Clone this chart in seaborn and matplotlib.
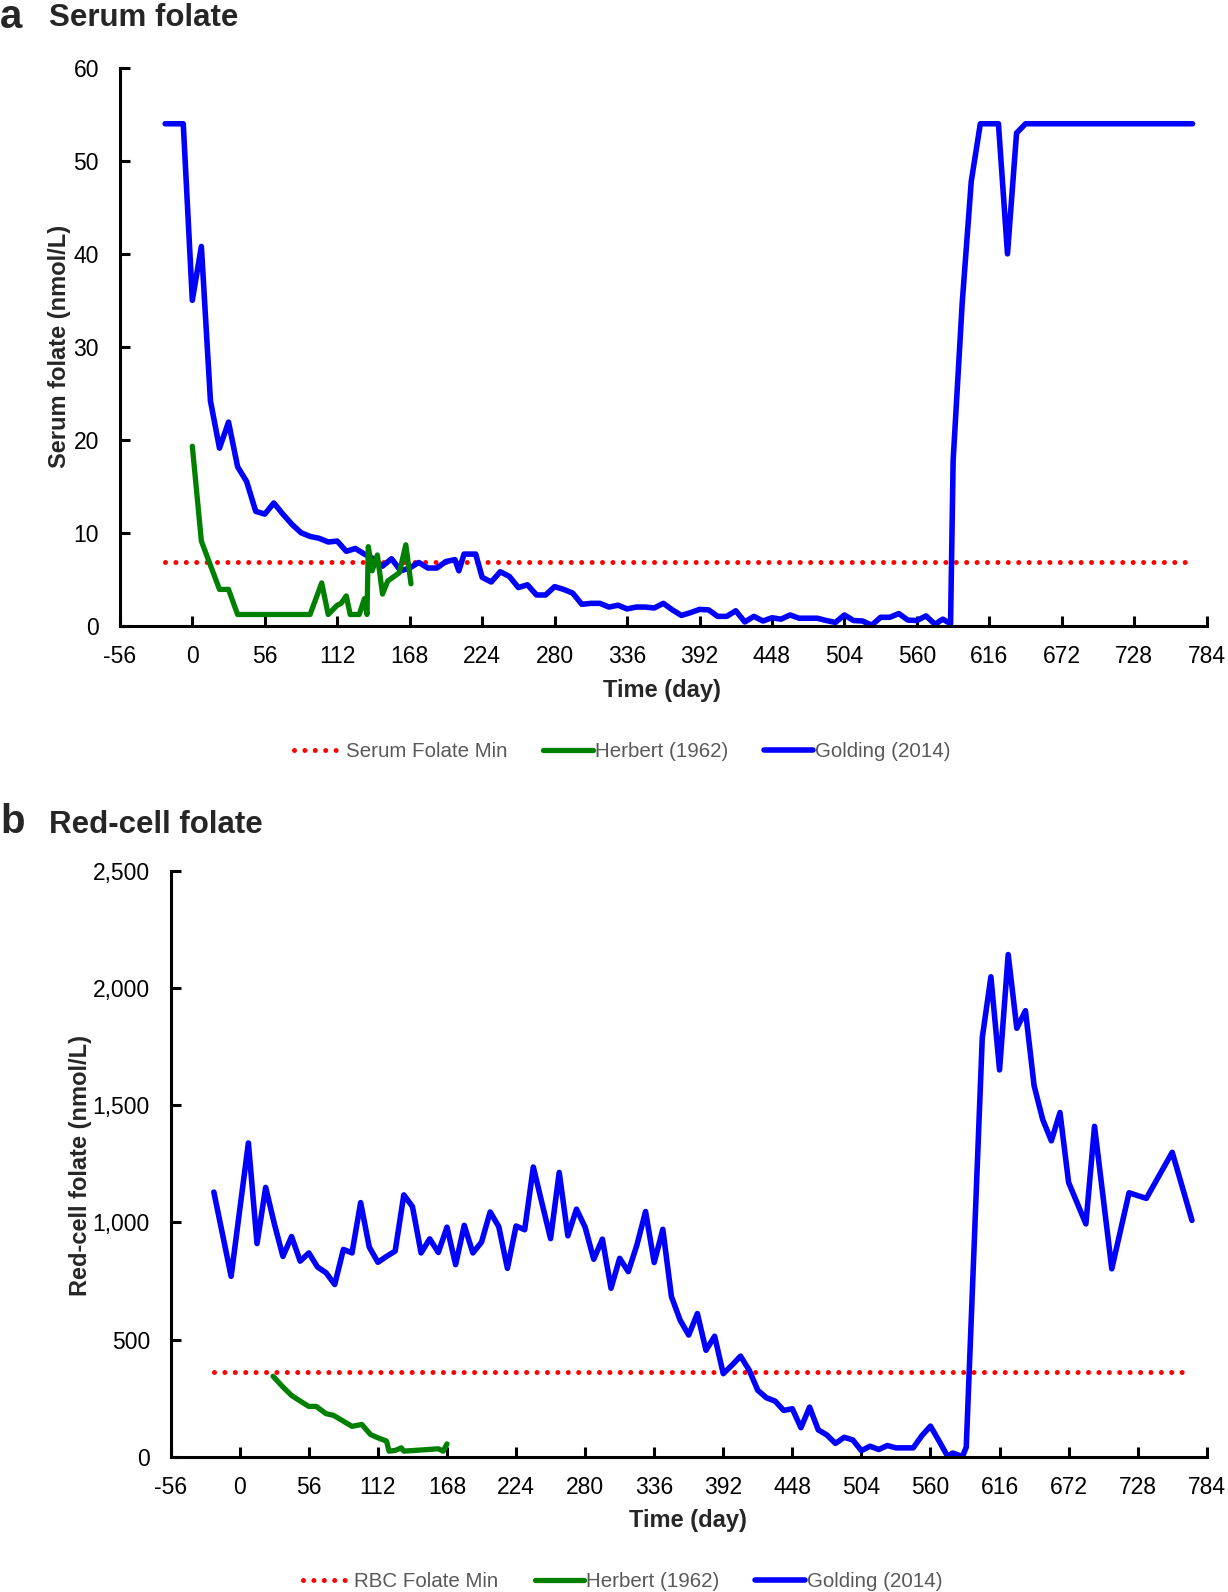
import numpy as np
import matplotlib
matplotlib.use('Agg')
import matplotlib.pyplot as plt
from matplotlib.ticker import FuncFormatter
import seaborn as sns

# ── Panel a: serum folate (nmol/L) ──────────────────────────────────────────
serum_golding_day = [-21, -14, -7, 0, 7, 14, 21, 28, 35, 42, 49, 56, 63, 70, 77, 84, 91, 98,
                     105, 112, 119, 126, 133, 140, 147, 154, 161, 168, 175, 182, 189, 196, 203,
                     206, 210, 219, 224, 231, 238, 245, 252, 259, 266, 273, 280, 287, 294, 301,
                     308, 315, 322, 329, 336, 343, 350, 357, 364, 371, 378, 385, 392, 399, 406,
                     413, 420, 427, 434, 441, 448, 455, 462, 469, 476, 483, 490, 497, 504, 511,
                     518, 525, 532, 539, 546, 553, 560, 567, 574, 580, 586, 588, 595, 602, 609,
                     616, 623, 630, 637, 644, 672, 700, 728, 756, 773]
serum_golding_val = [54, 54, 54, 35, 40.8, 24.2, 19.1, 21.9, 17.1, 15.5, 12.3, 12.0, 13.2, 12.0,
                     10.9, 10.0, 9.6, 9.4, 9.0, 9.1, 8.0, 8.3, 7.7, 7.2, 6.4, 7.2, 5.9, 6.2, 6.8,
                     6.2, 6.2, 6.9, 7.1, 5.9, 7.7, 7.7, 5.2, 4.7, 5.8, 5.3, 4.1, 4.4, 3.3, 3.3,
                     4.2, 3.9, 3.5, 2.3, 2.4, 2.4, 2.0, 2.2, 1.8, 2.0, 2.0, 1.9, 2.4, 1.7, 1.1,
                     1.4, 1.75, 1.7, 1.0, 1.0, 1.6, 0.4, 1.0, 0.5, 0.85, 0.7, 1.15, 0.8, 0.8, 0.8,
                     0.55, 0.35, 1.15, 0.55, 0.5, 0.05, 0.9, 0.9, 1.3, 0.6, 0.55, 1.05, 0.15, 0.7,
                     0.2, 17.8, 34.7, 47.8, 54, 54, 54, 40, 53, 54, 54, 54, 54, 54, 54]
serum_herbert_day = [0, 7, 21, 28, 35, 91, 100, 105, 112, 115, 119, 122, 129, 133, 135, 136,
                     139, 143, 147, 151, 160, 165, 169]
serum_herbert_val = [19.3, 9.1, 3.9, 3.9, 1.2, 1.2, 4.6, 1.2, 2.2, 2.4, 3.2, 1.2, 1.2, 2.9, 1.2,
                     8.5, 5.9, 7.6, 3.4, 4.8, 5.7, 8.7, 4.5]
serum_min = 6.8

# ── Panel b: red-cell folate (nmol/L) ───────────────────────────────────────
rbc_golding_day = [-21, -7, 7, 14, 21, 28, 35, 42, 49, 56, 63, 70, 77, 84, 91, 98, 105, 112, 119,
                   126, 133, 140, 147, 154, 161, 168, 175, 182, 189, 196, 203, 210, 217, 224,
                   231, 238, 245, 252, 259, 266, 273, 280, 287, 294, 301, 308, 315, 322, 329,
                   336, 343, 350, 357, 364, 371, 378, 385, 392, 399, 406, 413, 420, 427, 434,
                   441, 448, 455, 462, 469, 476, 483, 490, 497, 504, 511, 518, 525, 532, 539,
                   546, 553, 560, 567, 574, 578, 586, 589, 602, 609, 616, 623, 630, 637, 644,
                   651, 658, 665, 672, 686, 693, 707, 721, 735, 756, 772]
rbc_golding_val = [1130, 770, 1340, 910, 1150, 995, 855, 940, 835, 870, 810, 785, 735, 885, 870,
                   1085, 895, 830, 855, 878, 1118, 1068, 870, 930, 872, 980, 820, 988, 870, 916,
                   1045, 982, 804, 985, 969, 1237, 1083, 931, 1214, 943, 1057, 980, 843, 929,
                   719, 847, 790, 904, 1047, 829, 971, 683, 583, 519, 611, 454, 514, 354, 390,
                   429, 369, 283, 251, 237, 197, 204, 123, 211, 114, 92, 56, 82, 71, 25, 44, 30,
                   47, 37, 37, 37, 89, 130, 66, 0, 15, 0, 40, 1790, 2050, 1652, 2145, 1830,
                   1905, 1585, 1440, 1349, 1470, 1171, 994, 1411, 802, 1127, 1103, 1300, 1009]
rbc_herbert_day = [27, 35, 42, 49, 56, 62, 70, 76, 84, 91, 99, 106, 112, 119, 121, 126, 131, 133,
                   150, 161, 165, 168]
rbc_herbert_val = [343, 297, 261, 237, 214, 214, 183, 176, 151, 129, 137, 94, 80, 66, 23, 26, 37,
                   23, 29, 33, 23, 54]
rbc_min = 360

min_line_days = [-21, 767]
x_ticks = [-56, 0, 56, 112, 168, 224, 280, 336, 392, 448, 504, 560, 616, 672, 728, 784]

BLUE = '#0000FF'
GREEN = '#008000'
RED = '#FF0000'
GREY = '#595959'

sns.set_theme(style='white')
plt.rcParams['font.family'] = ['Liberation Sans', 'DejaVu Sans']
plt.rcParams['axes.unicode_minus'] = False  # plain hyphen like the original "-56"

fig = plt.figure(figsize=(12.28, 15.92), dpi=100)
ax_a = fig.add_axes([0.0976, 0.607, 0.8851, 0.3503])
ax_b = fig.add_axes([0.139, 0.0851, 0.8437, 0.3675])


def draw_panel(ax, min_val, herbert_d, herbert_v, golding_d, golding_v):
    sns.lineplot(x=min_line_days, y=[min_val, min_val], ax=ax, color=RED, linewidth=3.6,
                 linestyle=(0, (0.001, 2.08)), dash_capstyle='round', estimator=None)
    sns.lineplot(x=golding_d, y=golding_v, ax=ax, color=BLUE, linewidth=4.0,
                 estimator=None, sort=False)
    sns.lineplot(x=herbert_d, y=herbert_v, ax=ax, color=GREEN, linewidth=3.8,
                 estimator=None, sort=False)
    ax.set_xlim(-56, 784)
    ax.set_xticks(x_ticks)
    for side in ['top', 'right']:
        ax.spines[side].set_visible(False)
    for side in ['left', 'bottom']:
        ax.spines[side].set_linewidth(2.2)
        ax.spines[side].set_color('black')
    ax.tick_params(axis='both', direction='in', length=7, width=2.2, colors='black',
                   labelsize=16.5, bottom=True, left=True)
    ax.tick_params(axis='x', pad=14)
    ax.tick_params(axis='y', pad=15)
    ax.set_xlabel('Time (day)', fontsize=17, fontweight='bold')
    lines = ax.get_lines()
    return [lines[0], lines[2], lines[1]]


h_a = draw_panel(ax_a, serum_min, serum_herbert_day, serum_herbert_val,
                 serum_golding_day, serum_golding_val)
ax_a.set_ylim(0, 60)
ax_a.set_yticks([0, 10, 20, 30, 40, 50, 60])
ax_a.set_ylabel('Serum folate (nmol/L)', fontsize=17, fontweight='bold')
ax_a.yaxis.set_label_coords(-0.045, 0.5)
ax_a.xaxis.set_label_coords(0.4987, -0.095)

h_b = draw_panel(ax_b, rbc_min, rbc_herbert_day, rbc_herbert_val,
                 rbc_golding_day, rbc_golding_val)
ax_b.set_ylim(0, 2500)
ax_b.set_yticks([0, 500, 1000, 1500, 2000, 2500])
ax_b.yaxis.set_major_formatter(FuncFormatter(lambda v, p: f'{int(v):,}'))
ax_b.set_ylabel('Red-cell folate (nmol/L)', fontsize=17, fontweight='bold')
ax_b.yaxis.set_label_coords(-0.076, 0.498)
ax_b.xaxis.set_label_coords(0.499, -0.089)

leg_kw = dict(loc='center', ncol=3, frameon=False, fontsize=14.8, handlelength=2.4,
              handletextpad=0.1, columnspacing=1.75, labelcolor=GREY)
fig.legend(h_a, ['Serum Folate Min', 'Herbert (1962)', 'Golding (2014)'],
           bbox_to_anchor=(0.507, 0.528), **leg_kw)
fig.legend(h_b, ['RBC Folate Min', 'Herbert (1962)', 'Golding (2014)'],
           bbox_to_anchor=(0.507, 0.0066), **leg_kw)

# panel letters and titles
fig.text(0.0, 0.9822, 'a', fontsize=29, fontweight='bold', va='baseline', ha='left')
fig.text(0.0397, 0.9837, 'Serum folate', fontsize=22.5, fontweight='bold', va='baseline')
fig.text(0.0, 0.4768, 'b', fontsize=29, fontweight='bold', va='baseline', ha='left')
fig.text(0.0397, 0.4768, 'Red-cell folate', fontsize=22.5, fontweight='bold', va='baseline')

fig.savefig('out.png', dpi=100)
plt.close(fig)
